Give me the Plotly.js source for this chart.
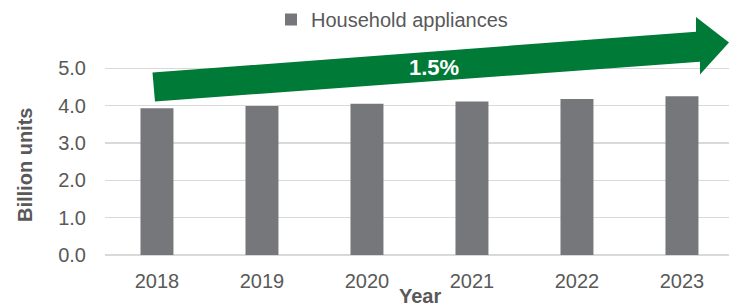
<!DOCTYPE html>
<html>
<head>
<meta charset="utf-8">
<script src="https://cdn.plot.ly/plotly-3.0.1.min.js"></script>
<style>
  html, body { margin: 0; padding: 0; background: #ffffff; }
  #chart { width: 729px; height: 307px; }
</style>
</head>
<body>
<div id="chart"></div>
<script>
// ---- Data ----
const years = ["2018", "2019", "2020", "2021", "2022", "2023"];
const householdAppliances = [3.93, 3.99, 4.05, 4.11, 4.18, 4.25];
const seriesName = "Household appliances";
const growthLabel = "1.5%";
const yTickValues = [0, 1, 2, 3, 4, 5];
const yTickLabels = ["0.0", "1.0", "2.0", "3.0", "4.0", "5.0"];

// ---- Layout geometry (pixels) ----
const W = 729, H = 307;
const M = { l: 105, r: 0, t: 50, b: 52 };
const plotW = W - M.l - M.r;
const plotH = H - M.t - M.b;
function px(x) { return (x - M.l) / plotW; }
function py(y) { return (H - M.b - y) / plotH; }

// arrow outline (pixel positions converted to paper coords)
const arrowPts = [
  [152.5, 72.5], [696, 31.7], [696, 17], [729, 42.5],
  [700, 74.5], [700, 61.7], [155, 101.5]
];
const arrowPath = arrowPts.map((p, i) => (i ? "L" : "M") + px(p[0]).toFixed(4) + "," + py(p[1]).toFixed(4)).join(" ") + " Z";

const grey = "#595959";
const font = "Liberation Sans, Arial, sans-serif";

const data = [{
  type: "bar",
  x: years,
  y: householdAppliances,
  name: seriesName,
  width: 0.314,
  marker: { color: "#76777b" },
  showlegend: true
}];

const layout = {
  width: W, height: H,
  margin: M,
  paper_bgcolor: "#ffffff",
  plot_bgcolor: "#ffffff",
  font: { family: font, color: grey, size: 20 },
  showlegend: true,
  legend: {
    orientation: "h",
    x: px(271), xanchor: "left",
    y: py(19), yanchor: "middle",
    font: { family: font, size: 20, color: grey },
    bgcolor: "rgba(0,0,0,0)"
  },
  xaxis: {
    type: "category",
    range: [-0.495, 5.448],
    showgrid: false,
    showline: false,
    zeroline: false,
    ticks: "",
    ticklabelstandoff: 12,
    tickfont: { family: font, size: 20, color: grey }
  },
  yaxis: {
    range: [0, 5.49],
    tickvals: yTickValues,
    ticktext: yTickLabels,
    showgrid: true,
    gridcolor: "#d9d9d9",
    gridwidth: 1.6,
    zeroline: true,
    zerolinecolor: "#d9d9d9",
    zerolinewidth: 1.6,
    showline: false,
    ticks: "",
    ticklabelstandoff: 18,
    tickfont: { family: font, size: 20, color: grey }
  },
  shapes: [{
    type: "path",
    xref: "paper", yref: "paper",
    path: arrowPath,
    fillcolor: "#007a37",
    line: { width: 0 },
    layer: "above"
  }],
  annotations: [
    {
      text: growthLabel,
      xref: "paper", yref: "paper",
      x: px(433.5), y: py(67),
      xanchor: "center", yanchor: "middle",
      showarrow: false,
      font: { family: font, size: 22, color: "#ffffff", weight: "bold" }
    },
    {
      text: "<b>Billion units</b>",
      xref: "paper", yref: "paper",
      x: px(25), y: py(165),
      xanchor: "center", yanchor: "middle",
      textangle: -90,
      showarrow: false,
      font: { family: font, size: 20, color: grey }
    },
    {
      text: "<b>Year</b>",
      xref: "paper", yref: "paper",
      x: px(420), y: py(296),
      xanchor: "center", yanchor: "middle",
      showarrow: false,
      font: { family: font, size: 20, color: grey }
    }
  ]
};

Plotly.newPlot("chart", data, layout, { displayModeBar: false, staticPlot: true });
</script>
</body>
</html>
